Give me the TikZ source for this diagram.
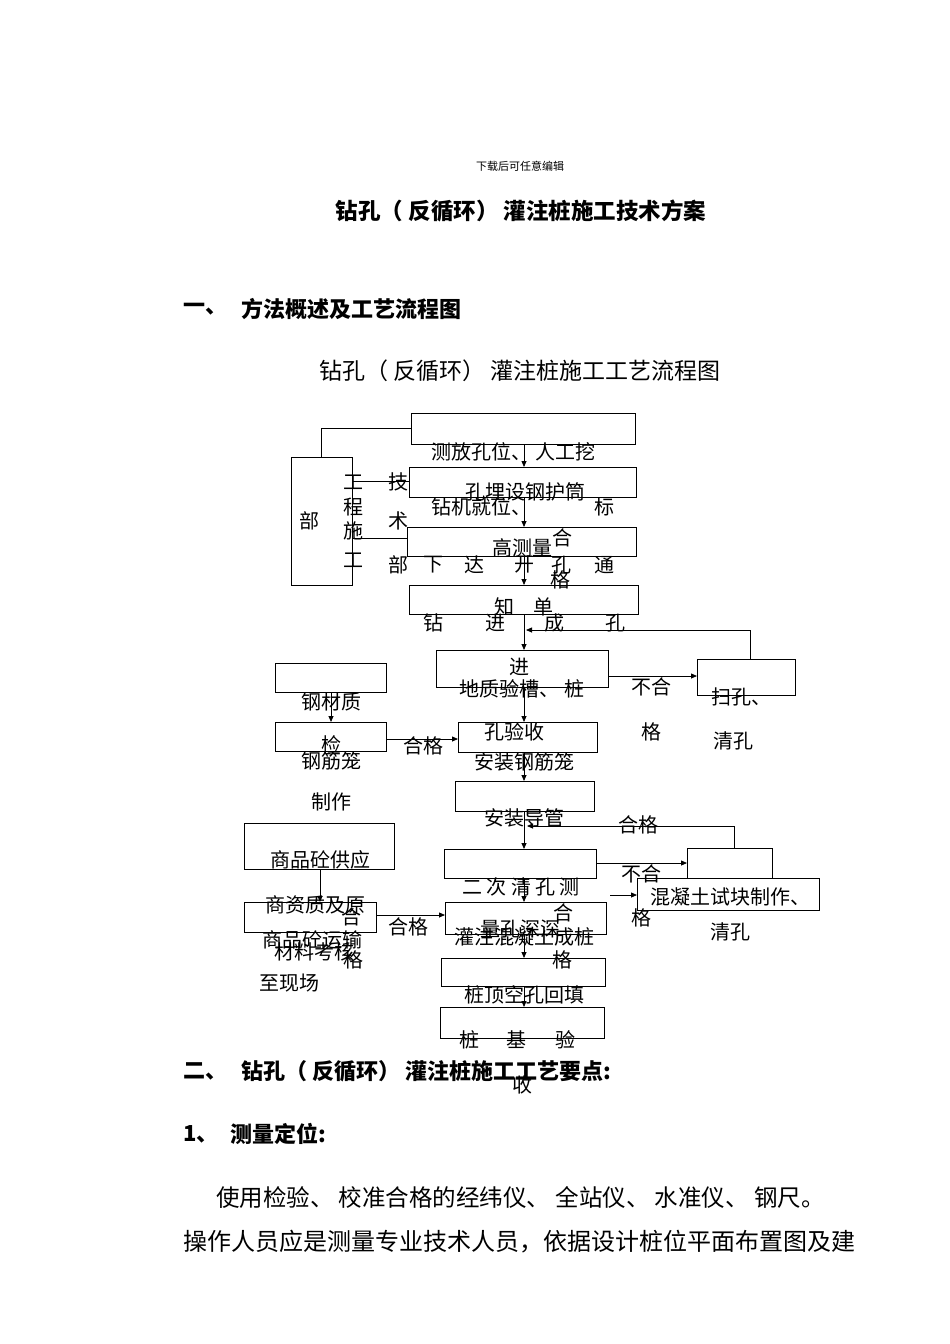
\documentclass[tikz,border=0pt]{standalone}
\usepackage{fontspec}
\setmainfont{Noto Sans CJK SC}
\usetikzlibrary{arrows.meta}
\begin{document}
\begin{tikzpicture}[x=1pt,y=-1pt,
  bx/.style={draw,line width=0.8pt},
  ar/.style={line width=0.8pt,-{Triangle[length=6pt,width=5pt]}},
  ln/.style={line width=0.8pt},
  t/.style={inner sep=0pt,font=\fontsize{20}{20}\selectfont},
  bt/.style={inner sep=0pt,font=\fontsize{22}{22}\selectfont\bfseries}]
\useasboundingbox[fill=white] (0,0) rectangle (950,1344);
% header
\node[inner sep=0pt,font=\fontsize{11}{11}\selectfont] (hd) at (520,166) {下载后可任意编辑};
\node[inner sep=0pt,font=\fontsize{22.5}{22.5}\selectfont\bfseries] (title) at (521,211) {钻孔（ 反循环） 灌注桩施工技术方案};
\node[bt,anchor=west] (s1a) at (183,309) {一、};
\node[bt,anchor=west] (s1b) at (241,309) {方法概述及工艺流程图};
\node[inner sep=0pt,font=\fontsize{23}{23}\selectfont] (ft) at (520,371) {钻孔（ 反循环） 灌注桩施工工艺流程图};
% boxes
\draw[bx] (411,413) rectangle (635,444);
\draw[bx] (409,467) rectangle (636,497);
\draw[bx] (407,527) rectangle (636,556);
\draw[bx] (409,585) rectangle (638,614);
\draw[bx] (436,650) rectangle (608,687);
\draw[bx] (697,659) rectangle (795,695);
\draw[bx] (291,457) rectangle (352,585);
\draw[bx] (275,663) rectangle (386,692);
\draw[bx] (275,722) rectangle (386,751);
\draw[bx] (458,722) rectangle (597,752);
\draw[bx] (455,781) rectangle (594,811);
\draw[bx] (444,849) rectangle (596,878);
\draw[bx] (687,848) rectangle (772,878);
\draw[bx,fill=white] (637,878) rectangle (819,910);
\draw[bx] (244,823) rectangle (394,869);
\draw[bx] (244,902) rectangle (376,932);
\draw[bx] (445,902) rectangle (606,934);
\draw[bx] (441,958) rectangle (605,986);
\draw[bx] (440,1007) rectangle (604,1038);
% connectors
\coordinate (c1) at (321,428);
\draw[ln] (411,428) -- (c1) -- (321,457);
\draw[ln] (352,481) -- (409,481);
\draw[ln] (352,538) -- (407,538);
\draw[ar] (524,444) -- (524,467);
\draw[ar] (524,497) -- (524,527);
\draw[ar] (524,556) -- (524,585);
\draw[ar] (524,614) -- (524,650);
\draw[ln] (750,659) -- (750,630);
\draw[ar] (750,630) -- (526,630);
\draw[ar] (608,676) -- (697,676);
\draw[ar] (524,687) -- (524,722);
\draw[ar] (331,692) -- (331,722);
\draw[ar] (386,739) -- (458,739);
\draw[ar] (524,752) -- (524,781);
\draw[ar] (524,811) -- (524,849);
\draw[ln] (734,848) -- (734,826);
\draw[ar] (734,826) -- (527,826);
\draw[ar] (596,863) -- (687,863);
\draw[ar] (610,895) -- (637,895);
\draw[ar] (320,869) -- (320,902);
\draw[ar] (376,915) -- (445,915);
\draw[ar] (524,878) -- (524,902);
\draw[ar] (524,934) -- (524,958);
\draw[ar] (524,986) -- (524,1007);
% flow texts
\node[t,anchor=west] (x1) at (431,452) {测放孔位、 人工挖};
\node[t] (x2) at (525,492) {孔埋设钢护筒};
\node[t,anchor=west] (x3) at (431,507) {钻机就位、};
\node[t] (x4) at (604,507) {标};
\node[t] (x5) at (309,521) {部};
\node[t] (g1) at (353,482) {工};
\node[t] (g2) at (353,507) {程};
\node[t] (g3) at (353,531) {施};
\node[t] (g4) at (353,560) {工};
\node[t] (j1) at (398,482) {技};
\node[t] (j2) at (398,521) {术};
\node[t] (x6) at (522,548) {高测量};
\node[t] (x7) at (562,538) {合};
\node[t] (x8) at (560,580) {格};
\node[t] (d1) at (398,565) {部};
\node[t] (d2) at (433,565) {下};
\node[t] (d3) at (474,565) {达};
\node[t] (d4) at (524,565) {开};
\node[t] (d5) at (561,565) {孔};
\node[t] (d6) at (604,565) {通};
\node[t] (z1) at (504,607) {知};
\node[t] (z2) at (543,607) {单};
\node[t] (k1) at (433,623) {钻};
\node[t] (k2) at (495,623) {进};
\node[t] (k3) at (554,623) {成};
\node[t] (k4) at (615,623) {孔};
\node[t] (x9) at (519,667) {进};
\node[t] (x10) at (522,689) {地质验槽、 桩};
\node[t] (x11) at (651,687) {不合};
\node[t] (x12) at (651,732) {格};
\node[t,anchor=west] (x13) at (711,697) {扫孔、};
\node[t] (x14) at (733,741) {清孔};
\node[t] (m1) at (331,702) {钢材质};
\node[t] (m2) at (331,745) {检};
\node[t] (m3) at (331,761) {钢筋笼};
\node[t] (m4) at (331,802) {制作};
\node[t] (m5) at (423,746) {合格};
\node[t] (x15) at (514,732) {孔验收};
\node[t] (x16) at (524,762) {安装钢筋笼};
\node[t] (x17) at (524,818) {安装导管};
\node[t] (x18) at (638,825) {合格};
\node[t] (n1) at (320,860) {商品砼供应};
\node[t] (n2) at (315,905) {商资质及原};
\node[t] (n3) at (351,917) {合};
\node[t] (n4) at (312,940) {商品砼运输};
\node[t] (n5) at (314,952) {材料考核};
\node[t] (n6) at (353,960) {格};
\node[t] (n7) at (289,983) {至现场};
\node[t] (n8) at (408,927) {合格};
\node[t] (x19) at (521,887) {二 次 清 孔 测};
\node[t] (x20) at (641,874) {不合};
\node[t] (x21) at (641,918) {格};
\node[t] (x22) at (730,897) {混凝土试块制作、};
\node[t] (x23) at (730,932) {清孔};
\node[t] (x24) at (563,913) {合};
\node[t] (x25) at (520,929) {量孔深深};
\node[t] (x26) at (524,937) {灌注混凝土成桩};
\node[t] (x27) at (562,960) {格};
\node[t] (x28) at (524,995) {桩顶空孔回填};
\node[t] (p1) at (469,1040) {桩};
\node[t] (p2) at (516,1040) {基};
\node[t] (p3) at (565,1040) {验};
\node[t] (p4) at (522,1085) {收};
% section 2
\node[bt,anchor=west] (s2a) at (183,1071) {二、};
\node[bt,anchor=west] (s2b) at (241,1071) {钻孔（ 反循环） 灌注桩施工工艺要点:};
\node[bt,anchor=west] (s3a) at (183,1134) {1、};
\node[bt,anchor=west] (s3b) at (230,1134) {测量定位:};
\node[inner sep=0pt,anchor=west,font=\fontsize{23.5}{23.5}\selectfont] (q1) at (216,1197) {使用检验、 校准合格的经纬仪、 全站仪、 水准仪、 钢尺。};
\node[inner sep=0pt,anchor=west,font=\fontsize{24}{24}\selectfont] (q2) at (183,1242) {操作人员应是测量专业技术人员，依据设计桩位平面布置图及建};
\end{tikzpicture}
\end{document}
